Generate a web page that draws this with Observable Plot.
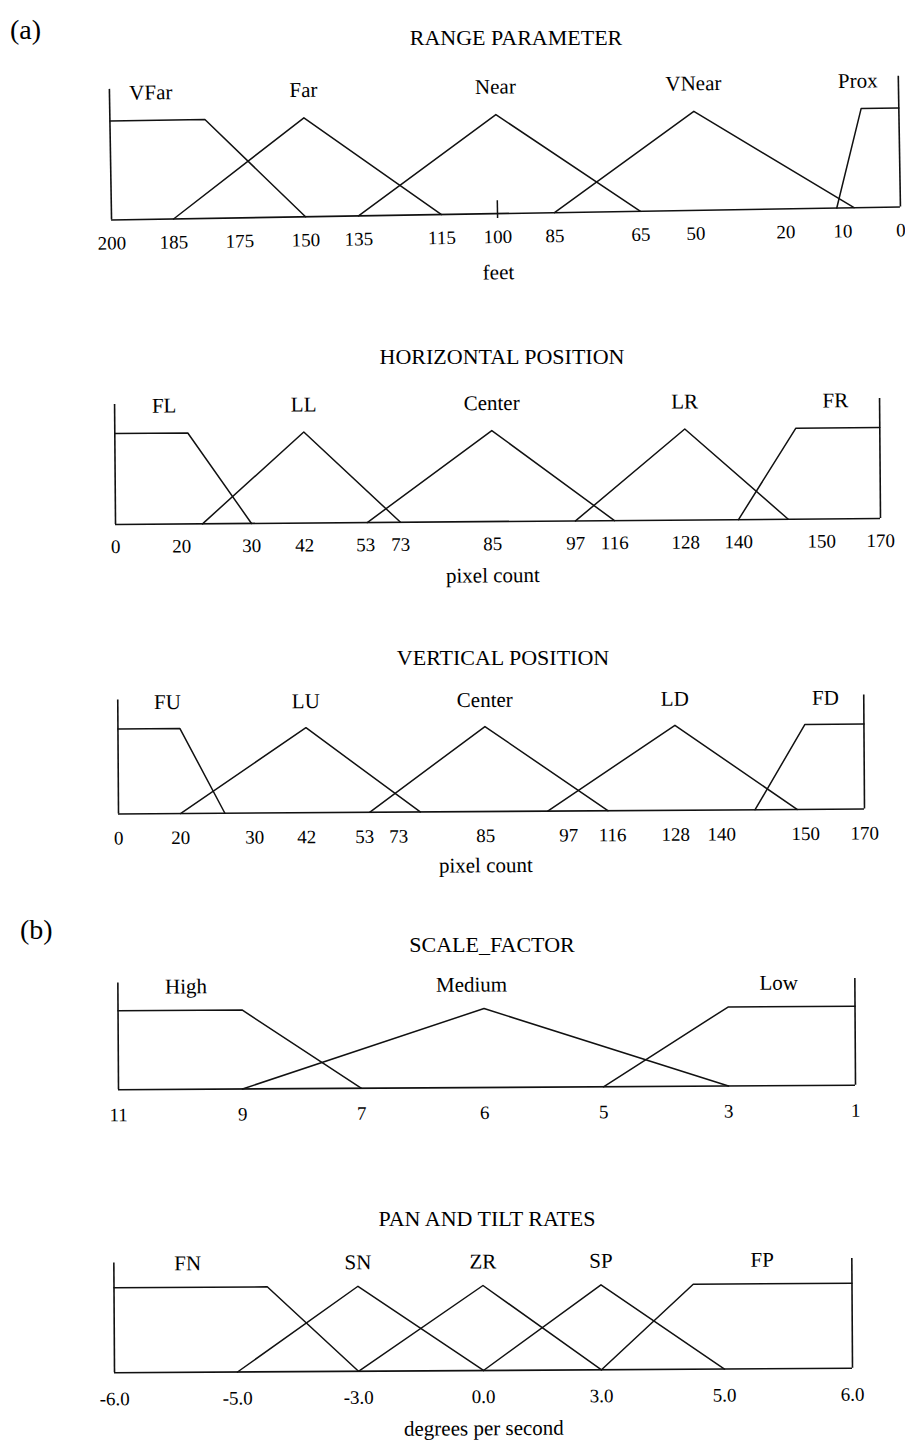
<!DOCTYPE html>
<html>
<head>
<meta charset="utf-8">
<script src="https://cdn.jsdelivr.net/npm/d3@7"></script>
<script src="https://cdn.jsdelivr.net/npm/@observablehq/plot@0.6"></script>
<style>
  html, body { margin: 0; padding: 0; background: #fff; }
  #page { position: relative; width: 905px; height: 1440px; overflow: hidden;
          font-family: "Liberation Serif", "DejaVu Serif", serif; color: #000; }
  .title { position: absolute; transform: translate(-50%, -50%); font-size: 22px; white-space: nowrap; }
  .tag { position: absolute; transform: translateY(-50%); font-size: 28px; }
</style>
</head>
<body>
<div id="page"></div>
<script>
// ---------------- DATA ----------------
// (a) RANGE PARAMETER (feet)
const rangeTicks = [200, 185, 175, 150, 135, 115, 100, 85, 65, 50, 20, 10, 0];
const rangeNames = ["VFar", "Far", "Near", "VNear", "Prox"];
const rangeVFar  = [[200, 1], [180, 1], [150, 0]];
const rangeFar   = [[185, 0], [150, 1], [115, 0]];
const rangeNear  = [[135, 0], [100, 1], [65, 0]];
const rangeVNear = [[85, 0], [50, 1], [8, 0]];
const rangeProx  = [[11, 0], [6.5, 1], [0, 1]];
const rangeLabelX = [190, 150, 100, 50, 7];

// HORIZONTAL POSITION (pixel count)
const horizTicks = [0, 20, 30, 42, 53, 73, 85, 97, 116, 128, 140, 150, 170];
const horizNames = ["FL", "LL", "Center", "LR", "FR"];
const horizFL = [[0, 1], [21, 1], [30, 0]];
const horizLL = [[23, 0], [42, 1], [73, 0]];
const horizC  = [[54, 0], [85, 1], [116, 0]];
const horizLR = [[97, 0], [128, 1], [146, 0]];
const horizFR = [[140, 0], [147, 1], [170, 1]];
const horizLabelX = [15, 42, 85, 128, 155];

// VERTICAL POSITION (pixel count)
const vertTicks = [0, 20, 30, 42, 53, 73, 85, 97, 116, 128, 140, 150, 170];
const vertNames = ["FU", "LU", "Center", "LD", "FD"];
const vertFU = [[0, 1], [20, 1], [26, 0]];
const vertLU = [[20, 0], [42, 1], [76, 0]];
const vertC  = [[56, 0], [85, 1], [114, 0]];
const vertLD = [[94, 0], [128, 1], [149, 0]];
const vertFD = [[144, 0], [150, 1], [170, 1]];
const vertLabelX = [16, 42, 85, 128, 157];

// (b) SCALE_FACTOR
const scaleTicks = [11, 9, 7, 6, 5, 3, 1];
const scaleNames = ["High", "Medium", "Low"];
const scaleHigh = [[11, 1], [9, 1], [7, 0]];
const scaleMed  = [[9, 0], [6, 1], [3, 0]];
const scaleLow  = [[5, 0], [3, 1], [1, 1]];
const scaleLabelX = [9.9, 6.1, 2.2];

// PAN AND TILT RATES (degrees per second)
const rateTicks = [-6, -5, -3, 0, 3, 5, 6];
const rateNames = ["FN", "SN", "ZR", "SP", "FP"];
const rateFN = [[-6, 1], [-4.5, 1], [-3, 0]];
const rateSN = [[-5, 0], [-3, 1], [0, 0]];
const rateZR = [[-3, 0], [0, 1], [3, 0]];
const rateSP = [[0, 0], [3, 1], [5, 0]];
const rateFP = [[3, 0], [4.5, 1], [6, 1]];
const rateLabelX = [-5.4, -3, 0, 3, 5.3];

// ---------------- LAYOUT ----------------
const page = document.getElementById("page");
const FONT = "Liberation Serif";

function addText(cls, text, x, y) {
  const d = document.createElement("div");
  d.className = cls;
  d.textContent = text;
  d.style.left = x + "px";
  d.style.top = y + "px";
  page.appendChild(d);
}

function panel(cfg) {
  const {ticks, names, sets, labelX} = cfg;
  const rows = sets.flatMap((pts, i) => pts.map(([x, y]) => ({set: names[i], x, y})));
  const labels = names.map((n, i) => ({name: n, x: labelX[i]}));
  const x0 = ticks[0], x1 = ticks[ticks.length - 1];
  const marks = [
    Plot.ruleY([0], {x1: x0, x2: x1, stroke: "#111", strokeWidth: 1.6}),
    Plot.ruleX([x0, x1], {y1: 0, y2: cfg.vTop, stroke: "#111", strokeWidth: 1.6}),
    Plot.line(rows, {x: "x", y: "y", z: "set", stroke: "#111", strokeWidth: 1.5}),
    Plot.text(labels, {x: "x", y: cfg.labelMu, text: "name", fontSize: 21}),
    Plot.axisX({ticks, tickSize: 0, tickPadding: cfg.tickPad, label: null, fontSize: 19,
                tickFormat: cfg.format || (d => String(d))})
  ];
  if (cfg.centerTick !== undefined)
    marks.push(Plot.ruleX([cfg.centerTick], {y1: -0.05, y2: 0.13, stroke: "#111", strokeWidth: 1.5}));
  if (cfg.axisLabel)
    marks.push(Plot.text([cfg.axisLabel], {x: cfg.axisLabelX, y: 0, dy: cfg.axisLabelDy, fontSize: 21}));
  const svg = Plot.plot({
    width: 905,
    height: cfg.height,
    marginLeft: 0, marginRight: 0,
    marginTop: cfg.mt, marginBottom: cfg.mb,
    style: {fontFamily: FONT, fontSize: "19px", background: "transparent", overflow: "visible", color: "#000"},
    x: {type: "linear", domain: ticks, range: cfg.tickPix},
    y: {domain: [0, 1], axis: null},
    marks
  });
  svg.style.position = "absolute";
  svg.style.left = "0px";
  svg.style.top = cfg.top + "px";
  // the scanned original is slightly skewed: reproduce the small tilt
  svg.style.transformOrigin = cfg.pivot;
  svg.style.transform = `rotate(${cfg.tilt}deg)`;
  page.appendChild(svg);
  addText("title", cfg.title, cfg.titleX, cfg.titleY);
}

addText("tag", "(a)", 10, 30);
addText("tag", "(b)", 20, 930);

panel({
  title: "RANGE PARAMETER", titleX: 516, titleY: 38,
  ticks: rangeTicks, names: rangeNames, labelX: rangeLabelX,
  sets: [rangeVFar, rangeFar, rangeNear, rangeVNear, rangeProx],
  top: 40, height: 250, mt: 74, mb: 77,
  tickPix: [111, 173, 239, 305, 358, 441, 497, 554, 640, 695, 785, 842, 900],
  labelMu: 1.28, vTop: 1.32, tickPad: 16,
  centerTick: 100, axisLabel: "feet", axisLabelX: 100, axisLabelDy: 59,
  tilt: -0.95, pivot: "505px 173px"
});

panel({
  title: "HORIZONTAL POSITION", titleX: 502, titleY: 357,
  ticks: horizTicks, names: horizNames, labelX: horizLabelX,
  sets: [horizFL, horizLL, horizC, horizLR, horizFR],
  top: 330, height: 270, mt: 100, mb: 79,
  tickPix: [115, 181, 251, 304, 365, 400, 492, 575, 614, 685, 738, 821, 880],
  labelMu: 1.30, vTop: 1.32, tickPad: 15,
  axisLabel: "pixel count", axisLabelX: 85, axisLabelDy: 54,
  tilt: -0.45, pivot: "500px 191px"
});

panel({
  title: "VERTICAL POSITION", titleX: 503, titleY: 658,
  ticks: vertTicks, names: vertNames, labelX: vertLabelX,
  sets: [vertFU, vertLU, vertC, vertLD, vertFD],
  top: 630, height: 260, mt: 96, mb: 79,
  tickPix: [118, 180, 254, 306, 364, 398, 485, 568, 612, 675, 721, 805, 864],
  labelMu: 1.31, vTop: 1.34, tickPad: 17,
  axisLabel: "pixel count", axisLabelX: 85, axisLabelDy: 54,
  tilt: -0.38, pivot: "490px 181px"
});

panel({
  title: "SCALE_FACTOR", titleX: 492, titleY: 945,
  ticks: scaleTicks, names: scaleNames, labelX: scaleLabelX,
  sets: [scaleHigh, scaleMed, scaleLow],
  top: 900, height: 240, mt: 108, mb: 53,
  tickPix: [118, 242, 361, 484, 603, 728, 855],
  labelMu: 1.30, vTop: 1.35, tickPad: 18,
  tilt: -0.35, pivot: "485px 187px"
});

panel({
  title: "PAN AND TILT RATES", titleX: 487, titleY: 1219,
  ticks: rateTicks, names: rateNames, labelX: rateLabelX,
  sets: [rateFN, rateSN, rateZR, rateSP, rateFP],
  top: 1180, height: 260, mt: 105, mb: 70,
  tickPix: [114, 237, 358, 483, 601, 724, 852],
  labelMu: 1.28, vTop: 1.29, tickPad: 19,
  format: d => d.toFixed(1),
  axisLabel: "degrees per second", axisLabelX: 0, axisLabelDy: 58,
  tilt: -0.35, pivot: "483px 190px"
});
</script>
</body>
</html>
